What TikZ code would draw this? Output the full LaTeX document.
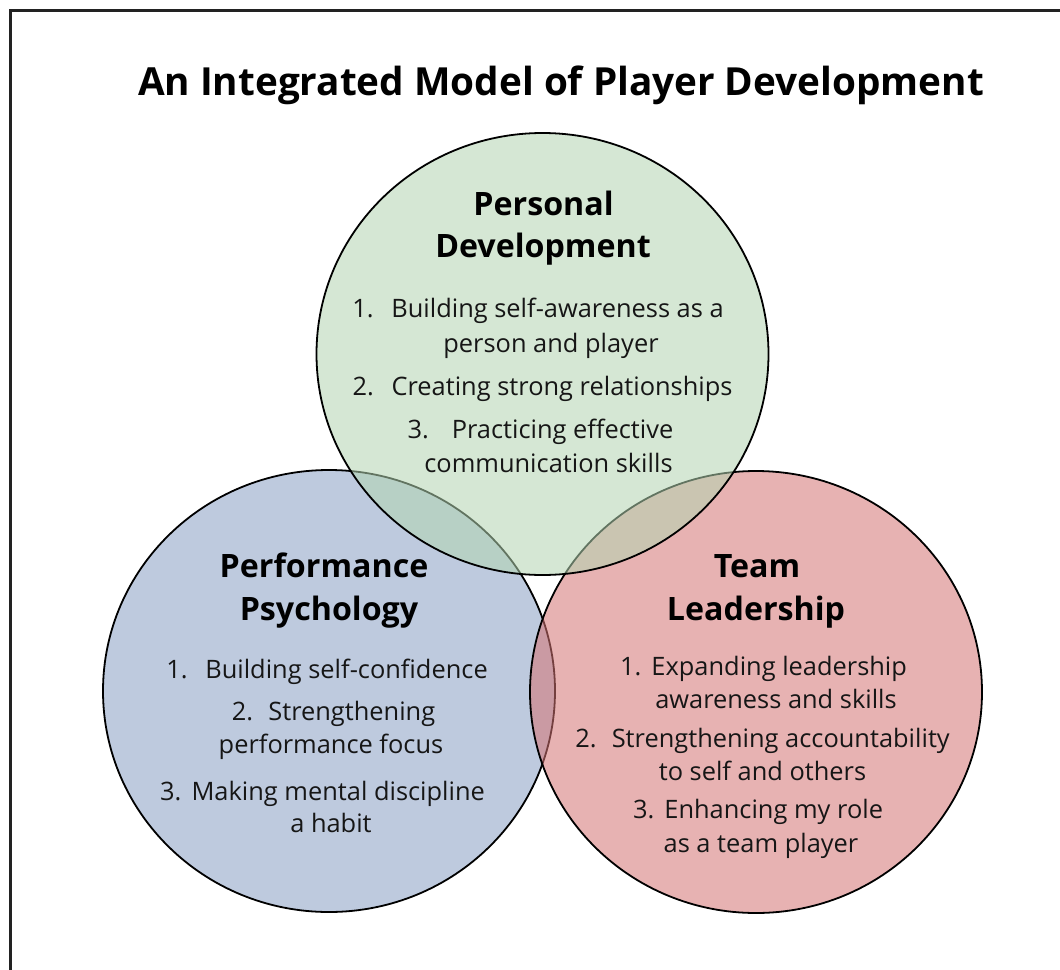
\documentclass[tikz,border=0pt]{standalone}
\usepackage{fontspec}
\setmainfont{Open Sans}
\usetikzlibrary{shapes.geometric}

\definecolor{pdfill}{RGB}{179,213,177}
\definecolor{ppfill}{RGB}{137,160,195}
\definecolor{tlfill}{RGB}{213,115,115}
\definecolor{ink}{RGB}{22,22,22}
\definecolor{framecol}{RGB}{34,34,34}

\tikzset{
  ring/.style={ellipse, draw=black, line width=1.8pt, fill opacity=0.55,
    minimum width=452pt, minimum height=442pt, inner sep=0pt},
  headline/.style={anchor=base, inner sep=0pt, text=black,
    font=\fontsize{32.2}{38}\selectfont\bfseries},
  itemline/.style={anchor=base, inner sep=0pt, text=ink,
    font=\fontsize{25.4}{30}\selectfont},
}

\begin{document}
\begin{tikzpicture}[x=1pt,y=-1pt]
  \useasboundingbox (0,0) rectangle (1060,969);
  \clip (0,0) rectangle (1060,969);
  \fill[white] (0,0) rectangle (1060,969);

  % open frame: only the left and top sides fall inside the page
  \draw[framecol, line width=2.6pt] (10.5,1000) -- (10.5,10.5) -- (1100,10.5);

  % title
  \node[anchor=base, inner sep=0pt, font=\fontsize{38.7}{46}\selectfont\bfseries]
    (title) at (561,95) {An Integrated Model of Player Development};

  % the three circles, lowest first
  \node[ring, fill=ppfill] (pp) at (329,691) {};
  \node[ring, fill=tlfill] (tl) at (756,692) {};
  \node[ring, fill=pdfill] (pd) at (542.5,354) {};

  % Personal Development
  \node[headline] (pdh1) at (543.5,215) {Personal};
  \node[headline] (pdh2) at (543,257) {Development};
  \node[itemline] (pd1a) at (538,317) {1.\hspace{0.7em}Building self-awareness as a};
  \node[itemline] (pd1b) at (551,352) {person and player};
  \node[itemline] (pd2)  at (542.5,395) {2.\hspace{0.7em}Creating strong relationships};
  \node[itemline] (pd3a) at (540.5,438) {3.\hspace{0.9em}Practicing effective};
  \node[itemline] (pd3b) at (548.5,472) {communication skills};

  % Performance Psychology
  \node[headline] (pph1) at (324,577) {Performance};
  \node[headline] (pph2) at (329,620) {Psychology};
  \node[itemline] (pp1)  at (327,678) {1.\hspace{0.7em}Building self-confidence};
  \node[itemline] (pp2a) at (333.5,720) {2.\hspace{0.6em}Strengthening};
  \node[itemline] (pp2b) at (331,753) {performance focus};
  \node[itemline] (pp3a) at (322.5,800) {3.\hspace{0.4em}Making mental discipline};
  \node[itemline] (pp3b) at (331,832) {a habit};

  % Team Leadership
  \node[headline] (tlh1) at (757,577) {Team};
  \node[headline] (tlh2) at (756,620) {Leadership};
  \node[itemline] (tl1a) at (763.5,675) {1.\hspace{0.4em}Expanding leadership};
  \node[itemline] (tl1b) at (776,708) {awareness and skills};
  \node[itemline] (tl2a) at (762.5,747) {2.\hspace{0.6em}Strengthening accountability};
  \node[itemline] (tl2b) at (762.5,780) {to self and others};
  \node[itemline] (tl3a) at (758,818) {3.\hspace{0.4em}Enhancing my role};
  \node[itemline] (tl3b) at (761,852) {as a team player};
\end{tikzpicture}
\end{document}
